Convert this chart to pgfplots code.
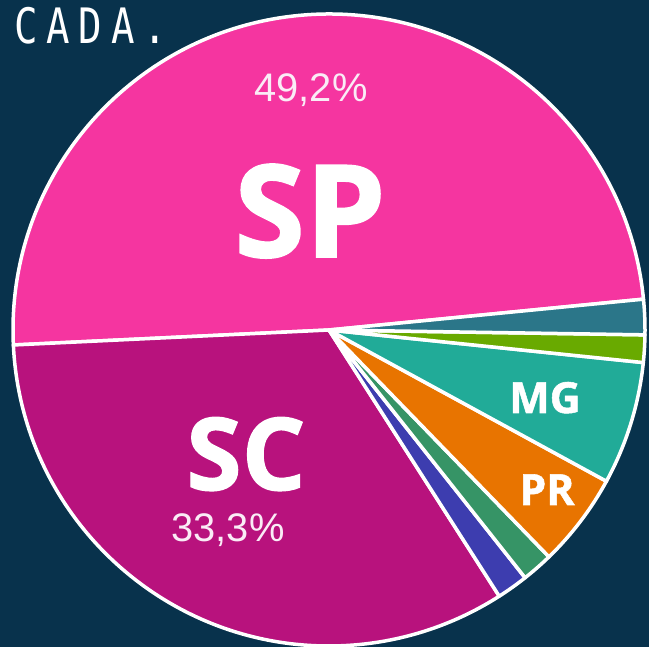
\documentclass[border=0pt]{standalone}
\usepackage{pgfplots}
\pgfplotsset{compat=1.18}
\usepackage{pgfplotstable}
\usepackage{fontspec}
\setmainfont{Liberation Sans}
\newfontfamily\boldsans[BoldFeatures={FakeBold=1.2}]{Open Sans}
\newfontfamily\monofont[FakeStretch=0.8,LetterSpace=18]{DejaVu Sans Mono}
\definecolor{bg}{HTML}{08324C}
\definecolor{cSP}{HTML}{F535A0}
\definecolor{cSC}{HTML}{B8127D}
\definecolor{cBL}{HTML}{3D3DAF}
\definecolor{cGR}{HTML}{369466}
\definecolor{cPR}{HTML}{E87400}
\definecolor{cMG}{HTML}{21AB98}
\definecolor{cLG}{HTML}{69AA00}
\definecolor{cDT}{HTML}{2B7689}
\definecolor{pct}{RGB}{250,236,246}
\pgfplotstableread{
label value col
SP 49.2 cSP
SC 33.3 cSC
BL 1.6 cBL
GR 1.6 cGR
PR 4.8 cPR
MG 6.3 cMG
LG 1.4 cLG
DT 1.8 cDT
}\piedata
\begin{document}
\begin{tikzpicture}
\begin{axis}[
  x=1bp, y=1bp,
  xmin=0, xmax=649, ymin=0, ymax=647,
  scale only axis, hide axis, clip=true,
]
\fill[bg] (rel axis cs:0,0) rectangle (rel axis cs:1,1);
\def\acc{5.6}
\pgfplotsforeachungrouped \i in {0,...,7}{%
  \pgfplotstablegetelem{\i}{value}\of\piedata \let\v\pgfplotsretval
  \pgfplotstablegetelem{\i}{col}\of\piedata \let\c\pgfplotsretval
  \pgfmathsetmacro\b{\acc+3.6*\v}%
  \edef\cmd{\noexpand\fill[\c, draw=white, line width=3.5bp, line join=round] (axis cs:329,317) -- ++(\acc:316bp) arc[start angle=\acc, end angle=\b, radius=316bp] -- cycle;}%
  \cmd
  \global\let\acc\b
}
\node[anchor=base west, inner sep=0, text=white, font=\monofont\fontsize{49}{49}\selectfont] at (axis cs:14,603) {CADA.};
\node[anchor=center, inner sep=0, text=pct, font=\fontsize{40}{40}\selectfont] at (axis cs:311,557) {49,2\%};
\node[anchor=center, inner sep=0, text=pct, font=\fontsize{40}{40}\selectfont] at (axis cs:228,117) {33,3\%};
\node[anchor=base, inner sep=0, text=white, font=\boldsans\bfseries\fontsize{129}{129}\selectfont] at (axis cs:310,390) {SP};
\node[anchor=base, inner sep=0, text=white, font=\boldsans\bfseries\fontsize{101}{101}\selectfont] at (axis cs:246,157) {SC};
\node[anchor=base, inner sep=0, text=white, font=\boldsans\bfseries\fontsize{43}{43}\selectfont] at (axis cs:545,234) {MG};
\node[anchor=base, inner sep=0, text=white, font=\boldsans\bfseries\fontsize{43}{43}\selectfont] at (axis cs:547,142) {PR};
\end{axis}
\end{tikzpicture}
\end{document}
